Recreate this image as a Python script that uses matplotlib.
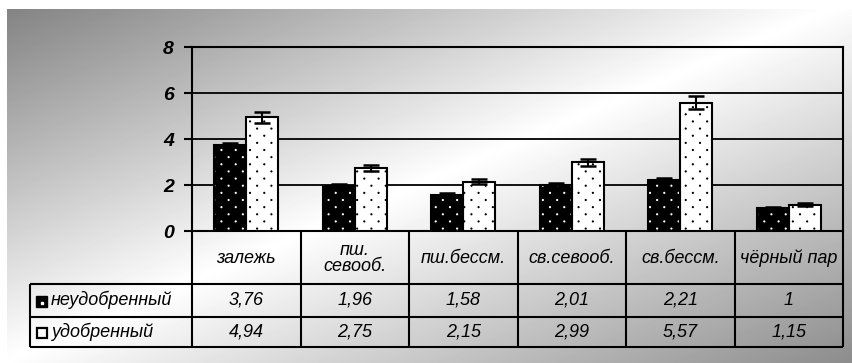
import numpy as np
import matplotlib
matplotlib.use('Agg')
import matplotlib.pyplot as plt
import matplotlib.hatch as mhatch
from matplotlib.path import Path
from matplotlib.patches import Rectangle

# ---------------- data ----------------
categories = ['залежь', 'пш.\nсевооб.', 'пш.бессм.', 'св.севооб.', 'св.бессм.', 'чёрный пар']
series_names = ['неудобренный', 'удобренный']
unfert = [3.76, 1.96, 1.58, 2.01, 2.21, 1.00]
fert = [4.94, 2.75, 2.15, 2.99, 5.57, 1.15]
unfert_err = [0.08, 0.07, 0.07, 0.08, 0.09, 0.06]
fert_err = [0.25, 0.14, 0.11, 0.16, 0.28, 0.08]
unfert_labels = ['3,76', '1,96', '1,58', '2,01', '2,21', '1']
fert_labels = ['4,94', '2,75', '2,15', '2,99', '5,57', '1,15']
yticks = [0, 2, 4, 6, 8]

plt.rcParams['font.family'] = ['Liberation Sans', 'DejaVu Sans']
plt.rcParams['hatch.linewidth'] = 0.7


# ------------- staggered dot hatch (replaces the '.' pattern) -------------
class QuincunxDots(mhatch.HatchPatternBase):
    def __init__(self, hatch, density):
        self.cols = hatch.count('.') * 7
        self.rows = self.cols * 2
        circ = Path.unit_circle()
        self.shape_vertices = circ.vertices
        self.shape_codes = circ.codes
        if self.cols:
            n_even = (self.rows // 2 + 1) * (self.cols + 1)
            n_odd = (self.rows // 2) * self.cols
            self.num_shapes = n_even + n_odd
        else:
            self.num_shapes = 0
        self.num_vertices = self.num_shapes * len(self.shape_vertices)

    def set_vertices_and_codes(self, vertices, codes):
        nv = len(self.shape_vertices)
        sv = self.shape_vertices * 0.006
        cur = 0
        for r in range(self.rows + 1):
            yy = r / self.rows
            if r % 2 == 0:
                xs_ = np.linspace(0, 1, self.cols + 1)
            else:
                xs_ = np.linspace(0.5 / self.cols, 1 - 0.5 / self.cols, self.cols)
            for xx in xs_:
                vertices[cur:cur + nv] = sv + (xx, yy)
                codes[cur:cur + nv] = self.shape_codes
                cur += nv


mhatch._hatch_types = [t for t in mhatch._hatch_types
                       if t is not mhatch.SmallFilledCircles] + [QuincunxDots]

W, H = 852, 363
fig = plt.figure(figsize=(W / 100, H / 100), dpi=100)
fig.patch.set_facecolor('white')

# ------------- gradient background -------------
x0, y0 = 7, 9
bg = fig.add_axes([x0 / W, 0, (W - x0) / W, (H - y0) / H], zorder=0)
gx = np.arange(x0, W) + 0.5
gy = np.arange(y0, H) + 0.5
GX, GY = np.meshgrid(gx, gy)
t = (GX / W + GY / H) / 2
v = np.where(t < 0.5, 127 + 128 * t / 0.5, 255 - 115 * (t - 0.5) / 0.5) / 255
bg.imshow(v, cmap='gray', vmin=0, vmax=1, aspect='auto', interpolation='bilinear')
bg.axis('off')

# ------------- main chart -------------
L, R = 192, 843
TOP, BOT = 47, 231
ax = fig.add_axes([L / W, 1 - BOT / H, (R - L) / W, (BOT - TOP) / H], zorder=2)
ax.set_facecolor('none')
x = np.arange(len(categories))
w = 0.295
lw = 1.5

ax.bar(x - w / 2, unfert, w, color='black', edgecolor='white', linewidth=0,
       hatch='.', zorder=3)
ax.bar(x - w / 2, unfert, w, fill=False, edgecolor='black', linewidth=lw, zorder=4)
ax.bar(x + w / 2, fert, w, color='white', edgecolor='black', linewidth=lw,
       hatch='.', zorder=3)
ax.errorbar(x - w / 2, unfert, yerr=unfert_err, fmt='none', ecolor='black',
            elinewidth=lw, capsize=6, capthick=1.8, zorder=5)
ax.errorbar(x + w / 2, fert, yerr=fert_err, fmt='none', ecolor='black',
            elinewidth=lw, capsize=6, capthick=1.8, zorder=5)

ax.set_xlim(-0.5, len(categories) - 0.5)
ax.set_ylim(0, 8)
ax.set_yticks(yticks)
ax.set_yticklabels([str(v_) for v_ in yticks], fontsize=14, fontweight='bold',
                   fontstyle='italic')
ax.set_xticks([])
ax.yaxis.grid(True, color='black', linewidth=1.3)
ax.set_axisbelow(True)
ax.tick_params(axis='y', direction='out', length=6, width=lw, pad=7)
for s in ax.spines.values():
    s.set_linewidth(lw)
    s.set_color('black')

# ------------- data table -------------
TB = 347
tab = fig.add_axes([L / W, 1 - TB / H, (R - L) / W, (TB - BOT) / H], zorder=2)
tab.set_facecolor('none')
tab.set_xlim(-0.5, len(categories) - 0.5)
tab.set_ylim(TB - BOT, 0)
tab.axis('off')

colw = (R - L) / len(categories)


def px2x(p):
    return -0.5 + (p - L) / colw


r1, r2, r3 = 53, 85.5, TB - BOT
xl = px2x(30)
tab.vlines(np.arange(len(categories) + 1) - 0.5, 0, r3, colors='black',
           linewidth=lw, clip_on=False)
tab.hlines([r1, r2, r3], xl, len(categories) - 0.5, colors='black', linewidth=lw,
           clip_on=False)
tab.vlines([xl], r1, r3, colors='black', linewidth=lw, clip_on=False)

fs = 13
line_h = 16
for i, c in enumerate(categories):
    lines = c.split('\n')
    n = len(lines)
    for k, ln in enumerate(lines):
        yc = r1 / 2 + 1 + (k - (n - 1) / 2) * line_h
        tab.text(i, yc, ln, ha='center', va='center', fontsize=fs,
                 fontstyle='italic')
    tab.text(i, (r1 + r2) / 2, unfert_labels[i], ha='center', va='center',
             fontsize=fs, fontstyle='italic')
    tab.text(i, (r2 + r3) / 2, fert_labels[i], ha='center', va='center',
             fontsize=fs, fontstyle='italic')

ks = 11
kx = px2x(36)
for j, (rt, rb) in enumerate([(r1, r2), (r2, r3)]):
    cy = (rt + rb) / 2 + 1.5
    if j == 0:
        tab.add_patch(Rectangle((kx, cy - ks / 2), ks / colw, ks, facecolor='black',
                                edgecolor='black', linewidth=1, clip_on=False))
        tab.plot([kx + ks / colw / 2], [cy + 1.5], marker='s', ms=1.5, color='white',
                 clip_on=False)
    else:
        tab.add_patch(Rectangle((kx + 0.5 / colw, cy - ks / 2 + 0.5), (ks - 1) / colw,
                                ks - 1, facecolor='white', edgecolor='black',
                                linewidth=1.6, clip_on=False))
    tab.text(px2x(51), (rt + rb) / 2, series_names[j], ha='left', va='center',
             fontsize=fs, fontstyle='italic')

fig.savefig('out.png', dpi=100)
